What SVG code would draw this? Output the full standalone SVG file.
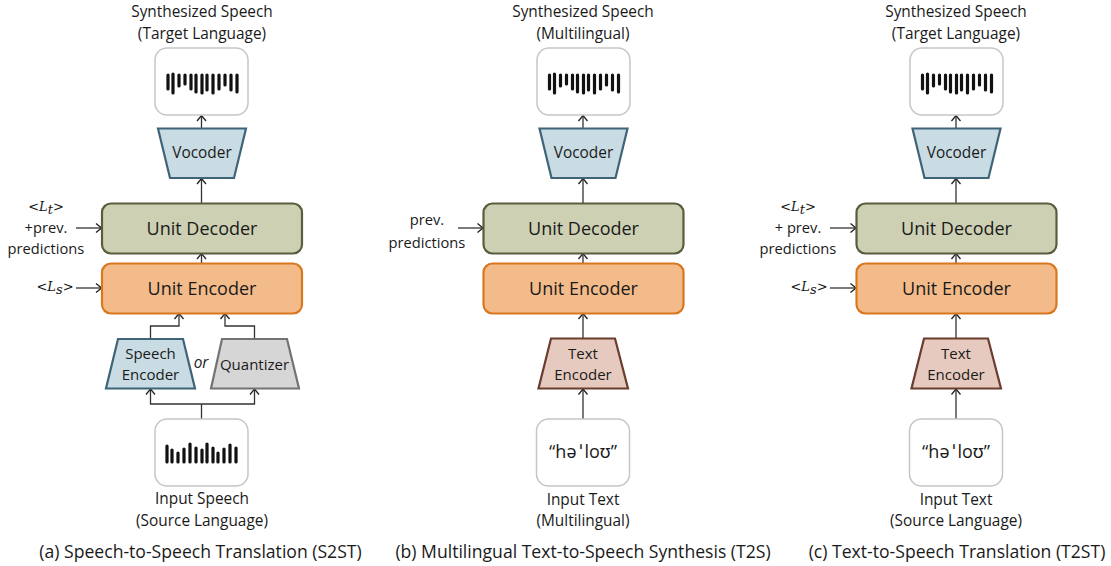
<svg xmlns="http://www.w3.org/2000/svg" xmlns:xlink="http://www.w3.org/1999/xlink" width="1111" height="566" viewBox="0 0 1111 566">
<style>
text{font-family:"Open Sans","Noto Sans","Liberation Sans",sans-serif;fill:#1a1a1a;text-anchor:middle}
.s{font-size:15.4px}
.p{font-size:14.7px}
.m{font-size:15px}
.b{font-size:18px}
.c{font-size:17.6px}
.ipa{font-size:18px}
.math{font-family:"DejaVu Serif","Liberation Serif",serif;font-style:italic;font-size:13px}
.box{fill:#fff;stroke:#c6c6c6;stroke-width:1.5}
.blue{fill:#c9dbe3;stroke:#3f6478;stroke-width:2.2;stroke-linejoin:miter}
.gray{fill:#d6d6d6;stroke:#737373;stroke-width:2.2}
.red{fill:#e7cabf;stroke:#6a3d2e;stroke-width:2.2}
.dec{fill:#cdd0b3;stroke:#5a5c3e;stroke-width:2.2}
.enc{fill:#f4bb8a;stroke:#d9771f;stroke-width:2.2}
.w{stroke:#111;stroke-width:3.2;stroke-linecap:round;fill:none}
.cn{fill:none;stroke:#333;stroke-width:1.3;marker-end:url(#a)}
.ln{fill:none;stroke:#333;stroke-width:1.3}
</style>
<defs>
<marker id="a" viewBox="0 0 10 12" refX="9.500" refY="6" markerWidth="10" markerHeight="12" markerUnits="userSpaceOnUse" orient="auto"><path d="M4 1.500L9.500 6L4 10.500" fill="none" stroke="#222" stroke-width="1.300"/></marker>
<path id="wt" class="w" d="M168 75V89M173 74V93M179 75V86M185 75V84M191 75V89M196 75V92M202 75V93M207 75V90M213 75V93M219 75V89M225 75V85M231 75V90M237 75V92"/>
<path id="wb" class="w" d="M167 446V462M172 450V462M178 453V462M184 449V462M190 444V462M196 448V462M202 450V462M207 444V462M213 448V462M218 453V462M224 449V462M230 445V462M236 448V462"/>
</defs>

<g id="connectors">
<path class="cn" d="M201.500 128V115.500"/>
<path class="cn" d="M201.500 203V178.500"/>
<path class="cn" d="M201.500 263V253.500"/>
<path class="cn" d="M76 228H101.500"/>
<path class="cn" d="M76 288H101.500"/>
<path class="cn" d="M150.500 339V326H179V313.500"/>
<path class="cn" d="M254.500 339V326H225V313.500"/>
<path class="ln" d="M201.500 419V404"/>
<path class="cn" d="M201.500 404H150.500V389"/>
<path class="cn" d="M201.500 404H254.500V389"/>

<path class="cn" d="M583 128V115.500"/>
<path class="cn" d="M583 203V178.500"/>
<path class="cn" d="M583 263V253.500"/>
<path class="cn" d="M458 228H483"/>
<path class="cn" d="M583 338V313.500"/>
<path class="cn" d="M583 419V389"/>

<path class="cn" d="M956 128V115.500"/>
<path class="cn" d="M956 203V178.500"/>
<path class="cn" d="M956 263V253.500"/>
<path class="cn" d="M830 228H856"/>
<path class="cn" d="M830 288H856"/>
<path class="cn" d="M956 338V313.500"/>
<path class="cn" d="M956 419V389"/>
</g>

<g id="a-output"><rect class="box" x="155" y="48" width="93" height="67" rx="12"/><use href="#wt"/></g>
<g id="a-vocoder"><path class="blue" d="M158 128.500H246L234 178H170Z"/><text class="s" x="202" y="158">Vocoder</text></g>
<g id="a-decoder"><rect class="dec" x="102" y="203.500" width="200" height="50" rx="9"/><text class="b" x="202" y="235">Unit Decoder</text></g>
<g id="a-encoder"><rect class="enc" x="102" y="263.500" width="200" height="50" rx="9"/><text class="b" x="202" y="295">Unit Encoder</text></g>
<g id="a-speech-encoder"><path class="blue" d="M118 339H183L195 388.500H106Z"/><text class="m" x="150.500" y="359">Speech</text><text class="m" x="150.500" y="380">Encoder</text></g>
<g id="a-quantizer"><path class="gray" d="M222 339H287L299 388.500H211Z"/><text class="m" x="254.500" y="370">Quantizer</text></g>
<g id="a-input"><rect class="box" x="155" y="419" width="93" height="67" rx="12"/><use href="#wb"/></g>

<g id="b-output"><rect class="box" x="537" y="48" width="93" height="67" rx="12"/><use href="#wt" x="381.500"/></g>
<g id="b-vocoder"><path class="blue" d="M539.500 128.500H627.500L615.500 178H551.500Z"/><text class="s" x="583.500" y="158">Vocoder</text></g>
<g id="b-decoder"><rect class="dec" x="483.500" y="203.500" width="200" height="50" rx="9"/><text class="b" x="583.500" y="235">Unit Decoder</text></g>
<g id="b-encoder"><rect class="enc" x="483.500" y="263.500" width="200" height="50" rx="9"/><text class="b" x="583.500" y="295">Unit Encoder</text></g>
<g id="b-text-encoder"><path class="red" d="M551 338.500H615L628 388.500H538.500Z"/><text class="m" x="583" y="359">Text</text><text class="m" x="583" y="380">Encoder</text></g>
<g id="b-input"><rect class="box" x="536.500" y="419" width="93" height="67" rx="12"/><text class="ipa" x="583" y="458">“hə<tspan dx="3">ˈ</tspan><tspan dx="2">loʊ”</tspan></text></g>

<g id="c-output"><rect class="box" x="910" y="48" width="93" height="67" rx="12"/><use href="#wt" x="754.500"/></g>
<g id="c-vocoder"><path class="blue" d="M912.500 128.500H1000.500L988.500 178H924.500Z"/><text class="s" x="956.500" y="158">Vocoder</text></g>
<g id="c-decoder"><rect class="dec" x="856.500" y="203.500" width="200" height="50" rx="9"/><text class="b" x="956.500" y="235">Unit Decoder</text></g>
<g id="c-encoder"><rect class="enc" x="856.500" y="263.500" width="200" height="50" rx="9"/><text class="b" x="956.500" y="295">Unit Encoder</text></g>
<g id="c-text-encoder"><path class="red" d="M924 338.500H988L1001 388.500H911.500Z"/><text class="m" x="956" y="359">Text</text><text class="m" x="956" y="380">Encoder</text></g>
<g id="c-input"><rect class="box" x="909.500" y="419" width="93" height="67" rx="12"/><text class="ipa" x="956" y="458">“hə<tspan dx="3">ˈ</tspan><tspan dx="2">loʊ”</tspan></text></g>

<g id="labels">
<text class="s" x="202" y="17">Synthesized Speech</text>
<text class="s" x="202" y="39">(Target Language)</text>
<text class="s" x="583" y="17">Synthesized Speech</text>
<text class="s" x="583" y="39">(Multilingual)</text>
<text class="s" x="956" y="17">Synthesized Speech</text>
<text class="s" x="956" y="39">(Target Language)</text>
<text class="s" x="202" y="504">Input Speech</text>
<text class="s" x="202" y="526">(Source Language)</text>
<text class="s" x="583" y="505">Input Text</text>
<text class="s" x="583" y="526">(Multilingual)</text>
<text class="s" x="956" y="505">Input Text</text>
<text class="s" x="956" y="526">(Source Language)</text>
<text class="m" x="46" y="211"><tspan class="math">&lt;L</tspan><tspan class="math" font-size="10" dy="3">t</tspan><tspan class="math" dy="-3">&gt;</tspan></text>
<text class="p" x="46" y="233">+prev.</text>
<text class="p" x="46" y="254">predictions</text>
<text class="m" x="55" y="291"><tspan class="math">&lt;L</tspan><tspan class="math" font-size="10" dy="3">s</tspan><tspan class="math" dy="-3">&gt;</tspan></text>
<text class="s" x="201" y="368" font-style="italic">or</text>
<text class="p" x="427" y="225">prev.</text>
<text class="p" x="427" y="248">predictions</text>
<text class="m" x="798" y="211"><tspan class="math">&lt;L</tspan><tspan class="math" font-size="10" dy="3">t</tspan><tspan class="math" dy="-3">&gt;</tspan></text>
<text class="p" x="798" y="233">+ prev.</text>
<text class="p" x="798" y="254">predictions</text>
<text class="m" x="809" y="291"><tspan class="math">&lt;L</tspan><tspan class="math" font-size="10" dy="3">s</tspan><tspan class="math" dy="-3">&gt;</tspan></text>
<text class="c" x="200.500" y="558">(a) Speech-to-Speech Translation (S2ST)</text>
<text class="c" x="583" y="558">(b) Multilingual Text-to-Speech Synthesis (T2S)</text>
<text class="c" x="957" y="558">(c) Text-to-Speech Translation (T2ST)</text>
</g>
</svg>
